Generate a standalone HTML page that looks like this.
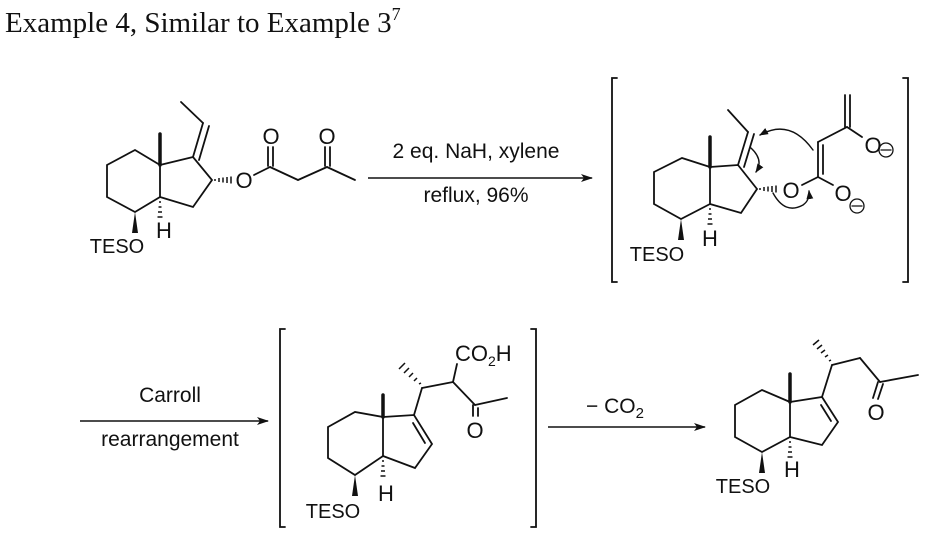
<!DOCTYPE html>
<html><head><meta charset="utf-8"><style>
html,body{margin:0;padding:0;background:#fff;}
svg{display:block;}
.a{font-family:"Liberation Sans",sans-serif;font-size:22px;fill:#111;}
.e{font-family:"Liberation Sans",sans-serif;font-size:20px;fill:#111;}
.t{font-family:"Liberation Sans",sans-serif;font-size:21px;fill:#111;}
</style></head><body>
<svg width="937" height="534" viewBox="0 0 937 534" xmlns="http://www.w3.org/2000/svg">
<defs>
<marker id="ah" markerWidth="12" markerHeight="8" refX="11" refY="4" orient="auto" markerUnits="userSpaceOnUse">
<path d="M0,0 L12,4 L0,8 L3,4 Z" fill="#111"/></marker>
<marker id="ch" markerWidth="9" markerHeight="7" refX="8" refY="3.5" orient="auto" markerUnits="userSpaceOnUse">
<path d="M0,0 L9,3.5 L0,7 Z" fill="#111"/></marker>
</defs>
<text x="5" y="32" style="font-family:'Liberation Serif',serif;font-size:29px;fill:#111">Example 4, Similar to Example 3<tspan dy="-12" font-size="18">7</tspan></text>

<g stroke="#111" stroke-width="1.8" fill="none" stroke-linecap="round">
<polyline points="160,165 135,150 107,165 107,197 135,212 160,197 160,165"/>
<polyline points="160,165 193,157 212,180 193,207 160,197"/>
<line x1="160" y1="165" x2="160" y2="134" stroke-width="3.5"/>
<line x1="193" y1="157" x2="203" y2="123"/><line x1="199" y1="160" x2="209" y2="126"/>
<line x1="203" y1="123" x2="181" y2="102"/>
<line x1="270" y1="167" x2="254" y2="175"/>
<line x1="270" y1="167" x2="298" y2="180"/><line x1="298" y1="180" x2="327" y2="167"/>
<line x1="327" y1="167" x2="355" y2="180"/>
<line x1="268" y1="166" x2="268" y2="147"/><line x1="273" y1="166" x2="273" y2="147"/>
<line x1="325" y1="166" x2="325" y2="147"/><line x1="330" y1="166" x2="330" y2="147"/>
</g>
<g stroke="#111" stroke-width="1.5">
<line x1="215" y1="179" x2="215" y2="181"/><line x1="219" y1="178" x2="219" y2="182"/><line x1="223" y1="177.5" x2="223" y2="182.5"/><line x1="227" y1="177" x2="227" y2="183"/><line x1="231" y1="176.5" x2="231" y2="183.5"/>
<line x1="159" y1="202" x2="161" y2="202"/><line x1="158.5" y1="207" x2="161.5" y2="207"/><line x1="158" y1="212" x2="162" y2="212"/><line x1="157.5" y1="217" x2="162.5" y2="217"/>
</g>
<polygon points="135,212 132,233 138,233" fill="#111"/>
<text class="a" x="244" y="188" text-anchor="middle">O</text>
<text class="a" x="271" y="144" text-anchor="middle">O</text>
<text class="a" x="327" y="144" text-anchor="middle">O</text>
<text class="e" x="117" y="253" text-anchor="middle">TESO</text>
<text class="a" x="164" y="238" text-anchor="middle">H</text>

<line x1="368" y1="178" x2="592" y2="178" stroke="#111" stroke-width="1.5" marker-end="url(#ah)"/>
<text class="t" x="476" y="158" text-anchor="middle">2 eq. NaH, xylene</text>
<text class="t" x="476" y="202" text-anchor="middle">reflux, 96%</text>

<g stroke="#111" stroke-width="1.8" fill="none" stroke-linecap="round">
<polyline points="617,78 612,78 612,282 617,282"/>
<polyline points="903,78 908,78 908,282 903,282"/>
<polyline points="710,167 682,158 654,172 654,204 681,219 710,204 710,167"/>
<polyline points="710,167 738,165 757,189 741,213 710,204"/>
<line x1="710" y1="167" x2="710" y2="137" stroke-width="3.5"/>
<line x1="738" y1="165" x2="748" y2="132"/><line x1="744" y1="167" x2="754" y2="134"/>
<line x1="748" y1="132" x2="728" y2="110"/>
<line x1="802" y1="185" x2="818" y2="177"/>
<line x1="818" y1="177" x2="833" y2="185"/>
<line x1="818" y1="177" x2="818" y2="142"/><line x1="823" y1="174" x2="823" y2="145"/>
<line x1="818" y1="142" x2="847" y2="127"/>
<line x1="845" y1="127" x2="845" y2="95"/><line x1="850" y1="127" x2="850" y2="95"/>
<line x1="847" y1="127" x2="862" y2="137"/>
<circle cx="886" cy="150" r="7" stroke-width="1.3"/><line x1="881" y1="150" x2="891" y2="150" stroke-width="1.3"/>
<circle cx="857" cy="206" r="7" stroke-width="1.3"/><line x1="852" y1="206" x2="862" y2="206" stroke-width="1.3"/>
<path d="M813,150 Q790,118 760,135" stroke-width="1.4" marker-end="url(#ch)"/>
<path d="M751,148 Q764,160 756,172" stroke-width="1.4" marker-end="url(#ch)"/>
<path d="M773,193 Q785,215 803,205 Q810,200 809,191" stroke-width="1.4" marker-end="url(#ch)"/>
</g>
<g stroke="#111" stroke-width="1.5">
<line x1="760" y1="188" x2="760" y2="190"/><line x1="764" y1="187" x2="764" y2="191"/><line x1="768" y1="186.5" x2="768" y2="191.5"/><line x1="772" y1="186" x2="772" y2="192"/><line x1="776" y1="185.5" x2="776" y2="192.5"/>
<line x1="709" y1="209" x2="711" y2="209"/><line x1="708.5" y1="214" x2="711.5" y2="214"/><line x1="708" y1="219" x2="712" y2="219"/><line x1="707.5" y1="224" x2="712.5" y2="224"/>
</g>
<polygon points="681,219 678,240 684,240" fill="#111"/>
<text class="a" x="791" y="198" text-anchor="middle">O</text>
<text class="a" x="873" y="153" text-anchor="middle">O</text>
<text class="a" x="843" y="201" text-anchor="middle">O</text>
<text class="e" x="657" y="261" text-anchor="middle">TESO</text>
<text class="a" x="710" y="246" text-anchor="middle">H</text>

<line x1="80" y1="421" x2="268" y2="421" stroke="#111" stroke-width="1.5" marker-end="url(#ah)"/>
<text class="t" x="170" y="402" text-anchor="middle">Carroll</text>
<text class="t" x="170" y="446" text-anchor="middle">rearrangement</text>

<g stroke="#111" stroke-width="1.8" fill="none" stroke-linecap="round">
<polyline points="285,329 280,329 280,527 285,527"/>
<polyline points="531,329 536,329 536,527 531,527"/>
<polyline points="383,417 355,412 328,427 328,458 355,475 383,456 383,417"/>
<polyline points="383,417 414,415 432,444 415,468 383,456"/>
<line x1="413" y1="423" x2="425" y2="443"/>
<line x1="383" y1="417" x2="383" y2="395" stroke-width="3.5"/>
<line x1="414" y1="415" x2="422" y2="388"/>
<line x1="422" y1="388" x2="453" y2="382"/>
<line x1="453" y1="382" x2="457" y2="364"/>
<line x1="453" y1="382" x2="475" y2="405"/>
<line x1="475" y1="405" x2="507" y2="398"/>
<line x1="473" y1="405" x2="473" y2="416"/><line x1="478" y1="408" x2="478" y2="416"/>
</g>
<g stroke="#111" stroke-width="1.5">
<line x1="419" y1="384" x2="421" y2="383"/><line x1="414" y1="381" x2="417" y2="378"/><line x1="409" y1="377" x2="413" y2="373"/><line x1="404" y1="373" x2="409" y2="368"/><line x1="399" y1="369" x2="405" y2="363"/>
<line x1="382" y1="461" x2="384" y2="461"/><line x1="381.5" y1="466" x2="384.5" y2="466"/><line x1="381" y1="471" x2="385" y2="471"/><line x1="380.5" y1="476" x2="385.5" y2="476"/>
</g>
<polygon points="355,475 352,496 358,496" fill="#111"/>
<text class="a" x="455" y="361">CO<tspan font-size="14" dy="5">2</tspan><tspan dy="-5">H</tspan></text>
<text class="a" x="475" y="438" text-anchor="middle">O</text>
<text class="e" x="333" y="518" text-anchor="middle">TESO</text>
<text class="a" x="386" y="501" text-anchor="middle">H</text>

<line x1="548" y1="427" x2="705" y2="427" stroke="#111" stroke-width="1.5" marker-end="url(#ah)"/>
<text class="t" x="586" y="413">−  CO<tspan font-size="15" dy="5">2</tspan></text>

<g stroke="#111" stroke-width="1.8" fill="none" stroke-linecap="round">
<polyline points="790,402 762,390 735,405 735,437 762,452 790,437 790,402"/>
<polyline points="790,402 822,397 838,422 822,445 790,437"/>
<line x1="821" y1="405" x2="831" y2="421"/>
<line x1="790" y1="402" x2="790" y2="374" stroke-width="3.5"/>
<line x1="822" y1="397" x2="832" y2="365"/>
<line x1="832" y1="365" x2="860" y2="358"/>
<line x1="860" y1="358" x2="880" y2="382"/>
<line x1="880" y1="382" x2="918" y2="375"/>
<line x1="878" y1="382" x2="873" y2="398"/><line x1="883" y1="384" x2="878" y2="399"/>
</g>
<g stroke="#111" stroke-width="1.5">
<line x1="829" y1="361" x2="831" y2="360"/><line x1="825" y1="357" x2="828" y2="355"/><line x1="821" y1="353" x2="825" y2="350"/><line x1="817" y1="349" x2="822" y2="345"/><line x1="813" y1="345" x2="819" y2="340"/>
<line x1="789" y1="442" x2="791" y2="442"/><line x1="788.5" y1="447" x2="791.5" y2="447"/><line x1="788" y1="452" x2="792" y2="452"/><line x1="787.5" y1="457" x2="792.5" y2="457"/>
</g>
<polygon points="762,452 759,473 765,473" fill="#111"/>
<text class="a" x="876" y="420" text-anchor="middle">O</text>
<text class="e" x="743" y="493" text-anchor="middle">TESO</text>
<text class="a" x="792" y="477" text-anchor="middle">H</text>
</svg>
</body></html>
